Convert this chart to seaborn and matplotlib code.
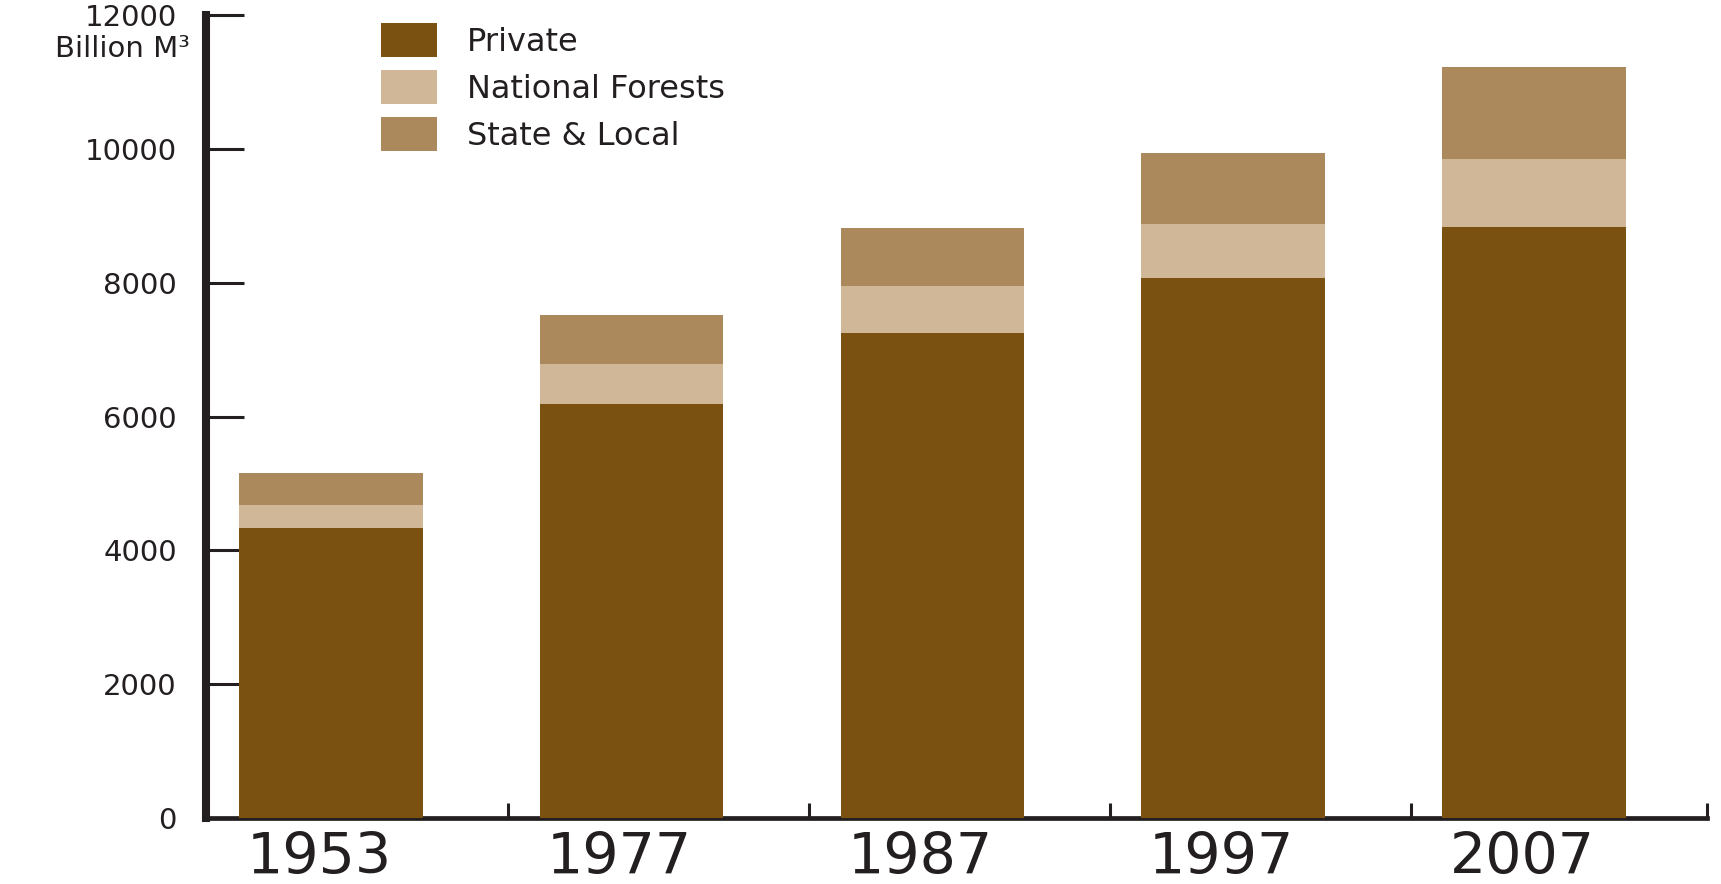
import matplotlib
matplotlib.use("Agg")
import matplotlib.pyplot as plt
from matplotlib.patches import Patch
from matplotlib.transforms import ScaledTranslation
import seaborn as sns
import pandas as pd
import numpy as np

# ---- data ----
years = ["1953", "1977", "1987", "1997", "2007"]
private = [4340, 6180, 7250, 8070, 8830]
national_forests = [340, 600, 700, 810, 1020]
state_local = [480, 740, 870, 1060, 1380]
y_ticks = [0, 2000, 4000, 6000, 8000, 10000, 12000]
series_names = ["Private", "National Forests", "State & Local"]

C_PRIVATE = "#7b5112"
C_NF = "#cfb797"
C_SL = "#ab895d"
C_TEXT = "#231f20"

sns.set_theme(style="white")
plt.rcParams["font.family"] = ["DejaVu Sans"]

df = pd.DataFrame({"year": years, "private": private,
                   "nf": national_forests, "sl": state_local})
df["cum_nf"] = df["private"] + df["nf"]
df["cum_sl"] = df["cum_nf"] + df["sl"]

W, H = 1721, 884
fig = plt.figure(figsize=(W / 100, H / 100), dpi=100)
ax = fig.add_axes([206 / W, 1 - 818 / H, (1707 - 206) / W, (818 - 15) / H])

bw = 0.61
sns.barplot(data=df, x="year", y="cum_sl", color=C_SL, saturation=1,
            width=bw, ax=ax, linewidth=0, zorder=2)
sns.barplot(data=df, x="year", y="cum_nf", color=C_NF, saturation=1,
            width=bw, ax=ax, linewidth=0, zorder=2)
sns.barplot(data=df, x="year", y="private", color=C_PRIVATE, saturation=1,
            width=bw, ax=ax, linewidth=0, zorder=2)

ax.set_ylim(0, 12000)
ax.set_xlim(-0.415, 4.575)
ax.set_xlabel("")
ax.set_ylabel("")

for s in ["top", "right"]:
    ax.spines[s].set_visible(False)
ax.spines["left"].set_linewidth(5.8)
ax.spines["left"].set_color(C_TEXT)
ax.spines["bottom"].set_linewidth(3.4)
ax.spines["bottom"].set_color(C_TEXT)
ax.spines["bottom"].set_zorder(1)

# y axis
ax.set_yticks(y_ticks)
ax.set_yticklabels([str(v) for v in y_ticks])
ax.tick_params(axis="y", which="major", direction="in", length=27, width=2.2,
               color=C_TEXT, labelcolor=C_TEXT, labelsize=21, pad=21, left=True)

# x axis: year labels as major ticks (no marks), marks as minor ticks
ax.set_xticks(range(len(years)))
ax.set_xticklabels(years)
ax.tick_params(axis="x", which="major", length=0, labelsize=41,
               labelcolor=C_TEXT, pad=9, bottom=True)
shift = ScaledTranslation(-12 / 100, 0, fig.dpi_scale_trans)
for lab in ax.get_xticklabels():
    lab.set_transform(lab.get_transform() + shift)
ax.set_xticks([0.59, 1.59, 2.59, 3.59, 4.575], minor=True)
ax.tick_params(axis="x", which="minor", direction="in", length=11, width=2.2,
               color=C_TEXT, bottom=True)

# unit label below the top tick label
fig.text(190 / W, 1 - 57 / H, "Billion M³", ha="right", va="baseline",
         fontsize=21, color=C_TEXT)

# legend
handles = [Patch(facecolor=c, edgecolor="none") for c in (C_PRIVATE, C_NF, C_SL)]
fs = 23
px = fs * 100 / 72
leg = ax.legend(handles, series_names, loc="upper left",
                bbox_to_anchor=(381 / W, 1 - 23 / H), bbox_transform=fig.transFigure,
                frameon=False, fontsize=fs, handlelength=56 / px,
                handleheight=35 / (0.857 * px), handletextpad=30 / px,
                labelspacing=12 / px, borderpad=0, borderaxespad=0)
for t in leg.get_texts():
    t.set_color(C_TEXT)

fig.savefig("out.png", dpi=100, facecolor="white")
